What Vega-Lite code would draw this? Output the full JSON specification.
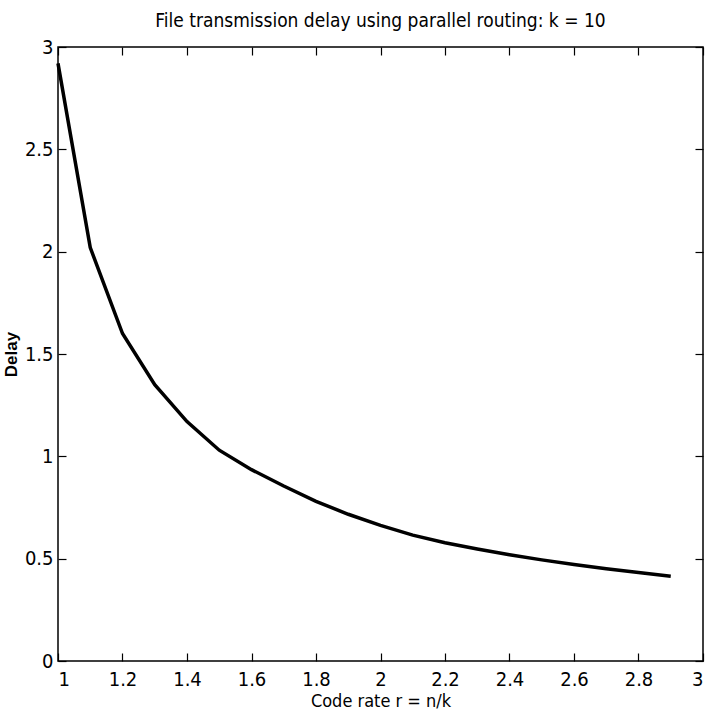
{
  "$schema": "https://vega.github.io/schema/vega-lite/v6.json",
  "width": 645,
  "height": 614,
  "autosize": {"type": "none"},
  "padding": {"left": 58, "top": 47, "right": 6, "bottom": 52},
  "background": "white",
  "title": {
    "text": "File transmission delay using parallel routing: k = 10",
    "font": "DejaVu Sans Condensed, sans-serif",
    "fontSize": 19,
    "fontWeight": "normal",
    "color": "black",
    "anchor": "middle",
    "offset": 6
  },
  "config": {
    "view": {"stroke": "black", "strokeWidth": 1.5},
    "axis": {
      "domain": false,
      "grid": false,
      "tickColor": "black",
      "tickSize": -8,
      "tickWidth": 1.2,
      "labelFont": "DejaVu Sans Condensed, sans-serif",
      "labelFontSize": 20,
      "labelColor": "black",
      "titleColor": "black"
    }
  },
  "data": {
    "values": [
      {"r": 1.0, "delay": 2.92},
      {"r": 1.1, "delay": 2.02},
      {"r": 1.2, "delay": 1.6},
      {"r": 1.3, "delay": 1.35},
      {"r": 1.4, "delay": 1.17},
      {"r": 1.5, "delay": 1.03},
      {"r": 1.6, "delay": 0.935},
      {"r": 1.7, "delay": 0.855},
      {"r": 1.8, "delay": 0.78},
      {"r": 1.9, "delay": 0.717},
      {"r": 2.0, "delay": 0.663},
      {"r": 2.1, "delay": 0.615},
      {"r": 2.2, "delay": 0.578},
      {"r": 2.3, "delay": 0.547},
      {"r": 2.4, "delay": 0.519},
      {"r": 2.5, "delay": 0.494},
      {"r": 2.6, "delay": 0.471},
      {"r": 2.7, "delay": 0.451},
      {"r": 2.8, "delay": 0.432},
      {"r": 2.9, "delay": 0.414}
    ]
  },
  "layer": [
    {
      "mark": {"type": "line", "color": "black", "strokeWidth": 3.5},
      "encoding": {
        "x": {
          "field": "r", "type": "quantitative",
          "scale": {"domain": [1, 3], "nice": false},
          "axis": {
            "values": [1, 1.2, 1.4, 1.6, 1.8, 2, 2.2, 2.4, 2.6, 2.8, 3],
            "format": "~g",
            "labelPadding": 16,
            "title": "Code rate r = n/k",
            "titleFont": "DejaVu Sans Condensed, sans-serif",
            "titleFontSize": 18,
            "titleFontWeight": "normal",
            "titlePadding": 3
          }
        },
        "y": {
          "field": "delay", "type": "quantitative",
          "scale": {"domain": [0, 3], "nice": false},
          "axis": {
            "values": [0, 0.5, 1, 1.5, 2, 2.5, 3],
            "format": "~g",
            "labelPadding": 13,
            "title": "Delay",
            "titleFont": "Liberation Sans, Arial, sans-serif",
            "titleFontSize": 17,
            "titleFontWeight": "bold",
            "titlePadding": 4
          }
        }
      }
    },
    {
      "mark": {"type": "line", "opacity": 0},
      "encoding": {
        "x": {
          "field": "r", "type": "quantitative",
          "scale": {"domain": [1, 3], "nice": false},
          "axis": {"orient": "top", "values": [1, 1.2, 1.4, 1.6, 1.8, 2, 2.2, 2.4, 2.6, 2.8, 3], "labels": false, "title": null}
        },
        "y": {
          "field": "delay", "type": "quantitative",
          "scale": {"domain": [0, 3], "nice": false},
          "axis": {"orient": "right", "values": [0, 0.5, 1, 1.5, 2, 2.5, 3], "labels": false, "title": null}
        }
      }
    }
  ],
  "resolve": {"axis": {"x": "independent", "y": "independent"}}
}
